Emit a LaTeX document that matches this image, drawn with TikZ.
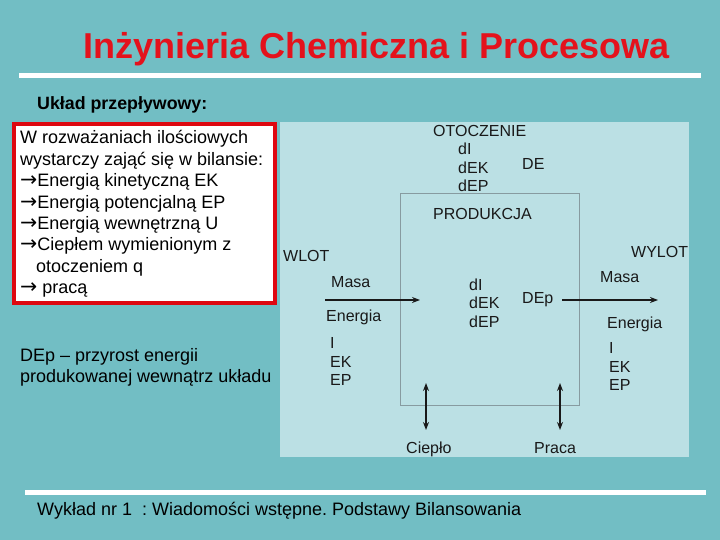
\documentclass[tikz,border=0pt]{standalone}
\usepackage{fontspec}
\setmainfont{Liberation Sans}
\newfontfamily\arrowfont{DejaVu Sans}
\newcommand{\rarr}{{\fontsize{20.5}{21}\arrowfont →}}
\frenchspacing
\usetikzlibrary{arrows.meta}
\definecolor{bgteal}{RGB}{114,190,196}
\definecolor{panel}{RGB}{187,224,228}
\definecolor{titlered}{RGB}{228,18,28}
\definecolor{boxred}{RGB}{222,8,16}
\definecolor{ink}{RGB}{25,25,25}
\definecolor{frame}{RGB}{135,155,160}
\begin{document}
\begin{tikzpicture}[x=1pt,y=-1pt,
  lbl/.style={anchor=base west, inner sep=0pt, font=\fontsize{16}{19}\selectfont, text=ink},
  boxline/.style={anchor=base west, inner sep=0pt, font=\fontsize{18}{21}\selectfont, text=black},
  flow/.style={-{Stealth[length=8pt,width=6pt]}, line width=1.3pt, draw=ink},
  dflow/.style={{Stealth[length=8pt,width=6pt]}-{Stealth[length=8pt,width=6pt]}, line width=1.3pt, draw=ink}]
\useasboundingbox (0,0) rectangle (720,540);
\fill[bgteal] (0,0) rectangle (720,540);
% rules
\fill[white] (19,73.5) rectangle (701,78.5);
\fill[white] (25,489.5) rectangle (706,494.5);
% title
\node[anchor=base, inner sep=0pt, text=titlered, font=\fontsize{36}{40}\selectfont\bfseries] (title) at (376.5,59) {Inżynieria Chemiczna i Procesowa};
\node[anchor=base west, inner sep=0pt, font=\fontsize{17.8}{20}\selectfont\bfseries] (sub) at (37,110) {Układ przepływowy:};
% red box
\draw[boxred, line width=4pt, fill=white] (14,124) rectangle (275,303);
\node[boxline] (l1) at (20,144) {W rozważaniach ilościowych};
\node[boxline] (l2) at (20,165.4) {wystarczy zająć się w bilansie:};
\node[boxline] (l3) at (20,186.8) {\rarr Energią kinetyczną EK};
\node[boxline] (l4) at (20,208.2) {\rarr Energią potencjalną EP};
\node[boxline] (l5) at (20,229.6) {\rarr Energią wewnętrzną U};
\node[boxline] (l6) at (20,251) {\rarr Ciepłem wymienionym z};
\node[boxline] (l7) at (36,272.4) {otoczeniem q};
\node[boxline] (l8) at (20,293.8) {\rarr\ pracą};
% DEp note
\node[boxline] (n1) at (20,361) {DEp – przyrost energii};
\node[boxline] (n2) at (20,382.5) {produkowanej wewnątrz układu};
% diagram panel
\fill[panel] (280,122) rectangle (689,457);
\draw[frame, line width=0.8pt] (400,193) rectangle (579,405);
\node[lbl] (ot) at (433,137) {OTOCZENIE};
\node[lbl] (odi) at (458,155) {dI};
\node[lbl] (odek) at (458,173.5) {dEK};
\node[lbl] (odep) at (458,192) {dEP};
\node[lbl] (de) at (522,170) {DE};
\node[lbl] (prod) at (433,219) {PRODUKCJA};
\node[lbl] (wlot) at (283,261) {WLOT};
\node[lbl] (wylot) at (631,257) {WYLOT};
\node[lbl] (masaL) at (331,287) {Masa};
\node[lbl] (masaR) at (600,282) {Masa};
\node[lbl] (pdi) at (469,290) {dI};
\node[lbl] (pdek) at (469,308) {dEK};
\node[lbl] (pdep) at (469,327) {dEP};
\node[lbl] (dep) at (522,303) {DEp};
\node[lbl] (enL) at (326,321) {Energia};
\node[lbl] (iL) at (330,348) {I};
\node[lbl] (ekL) at (330,367) {EK};
\node[lbl] (epL) at (330,385) {EP};
\node[lbl] (enR) at (607,328) {Energia};
\node[lbl] (iR) at (609,353) {I};
\node[lbl] (ekR) at (609,372) {EK};
\node[lbl] (epR) at (609,390) {EP};
\node[lbl] (cieplo) at (406,453) {Ciepło};
\node[lbl] (praca) at (534,453) {Praca};
% arrows
\coordinate (inA) at (325,300);
\coordinate (inB) at (420,300);
\coordinate (outA) at (562,300);
\coordinate (outB) at (658,300);
\coordinate (qA) at (426,383);
\coordinate (qB) at (426,430);
\coordinate (wA) at (560,383);
\coordinate (wB) at (560,430);
\draw[flow] (inA) -- (inB);
\draw[flow] (outA) -- (outB);
\draw[dflow] (qA) -- (qB);
\draw[dflow] (wA) -- (wB);
% footer
\node[boxline] (foot) at (37,515) {Wykład nr 1\ \ : Wiadomości wstępne. Podstawy Bilansowania};
\end{tikzpicture}
\end{document}
